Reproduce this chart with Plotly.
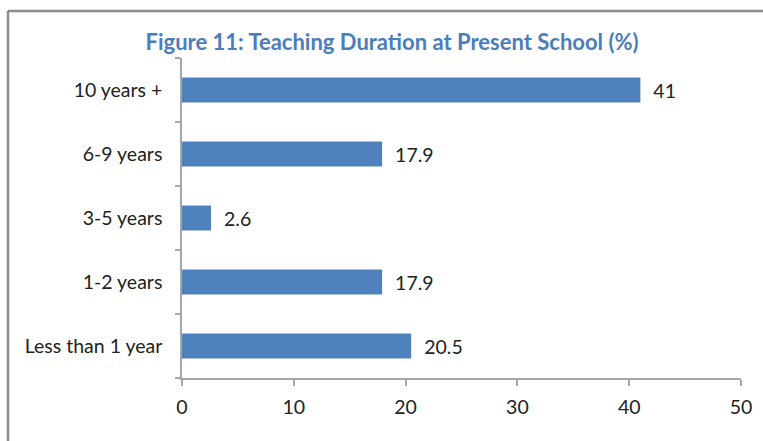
import plotly.graph_objects as go

# Data (bottom to top)
categories = ["Less than 1 year", "1-2 years", "3-5 years", "6-9 years", "10 years +"]
percent = [20.5, 17.9, 2.6, 17.9, 41]
x_ticks = [0, 10, 20, 30, 40, 50]

BLUE = "#4F81BD"
AXIS_GREY = "#A6A6A6"

fig = go.Figure()

fig.add_trace(
    go.Bar(
        x=percent,
        y=categories,
        orientation="h",
        marker=dict(color=BLUE, line=dict(width=0)),
        text=[f"{v:g}" for v in percent],
        texttemplate="  %{text}",
        textposition="outside",
        cliponaxis=False,
        textfont=dict(family="Lato", size=19.5, color="#222222"),
        hoverinfo="skip",
    )
)

fig.update_layout(
    width=763,
    height=441,
    margin=dict(l=182, r=22, t=58, b=63),
    paper_bgcolor="white",
    plot_bgcolor="white",
    bargap=0.61,
    showlegend=False,
    font=dict(family="Lato", size=19.5, color="#222222"),
    title=dict(
        text="<b>Figure 11: Teaching Duration at Present School (%)</b>",
        x=392 / 763,
        xanchor="center",
        y=1 - 42 / 441,
        yanchor="middle",
        font=dict(family="Lato", size=22, color="#4A7EBB"),
    ),
)

fig.update_xaxes(
    range=[0, 50],
    tickvals=x_ticks,
    showgrid=False,
    zeroline=False,
    showline=True,
    linecolor=AXIS_GREY,
    linewidth=1.5,
    ticks="outside",
    ticklen=6,
    tickcolor=AXIS_GREY,
    tickwidth=1.5,
    ticklabelstandoff=5,
    fixedrange=True,
)

fig.update_yaxes(
    type="category",
    categoryorder="array",
    categoryarray=categories,
    showgrid=False,
    showline=True,
    linecolor=AXIS_GREY,
    linewidth=1.5,
    ticks="outside",
    tickson="boundaries",
    ticklen=5,
    tickcolor=AXIS_GREY,
    tickwidth=1.5,
    ticklabelstandoff=14,
    fixedrange=True,
)

# chart-area frame (only top and left edges are visible in the crop)
fig.add_shape(type="line", xref="paper", yref="paper",
              x0=(8 - 182) / 559, x1=1.2, y0=1 + (58 - 11) / 320, y1=1 + (58 - 11) / 320,
              line=dict(color="#8C8C8C", width=2.5))
fig.add_shape(type="line", xref="paper", yref="paper",
              x0=(8 - 182) / 559, x1=(8 - 182) / 559, y0=1 + (58 - 11) / 320, y1=-0.3,
              line=dict(color="#8C8C8C", width=2.5))

# drop the default page margin so the figure sits at the window origin
fig.write_html(
    "out.html",
    config={"displayModeBar": False},
    post_script="document.body.style.margin='0';",
)
